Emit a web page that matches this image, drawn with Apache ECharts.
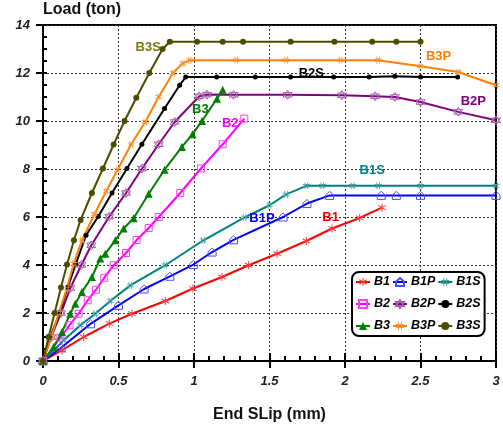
<!DOCTYPE html>
<html>
<head>
<meta charset="utf-8">
<script src="https://cdn.jsdelivr.net/npm/echarts@6/dist/echarts.min.js"></script>
<style>
  html, body { margin: 0; padding: 0; background: #fff; }
  #chart { width: 503px; height: 426px; }
</style>
</head>
<body>
<div id="chart"></div>
<script>
// Load vs. end slip, pairs of [slip (mm), load (ton)]
const B1  = [[0,0],[0.126,0.45],[0.269,1.0],[0.439,1.56],[0.589,1.97],[0.81,2.5],[0.993,3.02],[1.185,3.5],[1.362,3.99],[1.55,4.47],[1.744,5.0],[1.914,5.52],[2.097,5.96],[2.245,6.39]];
const B1P = [[0,0],[0.12,0.55],[0.315,1.55],[0.5,2.32],[0.67,3.0],[0.84,3.53],[0.996,4.02],[1.12,4.54],[1.262,5.05],[1.59,6.0],[1.748,6.56],[1.898,6.9],[2.24,6.9],[2.34,6.9],[2.5,6.9],[3.0,6.9]];
const B1S = [[0,0],[0.137,0.86],[0.247,1.49],[0.346,1.97],[0.446,2.5],[0.578,3.15],[0.81,3.99],[1.06,5.02],[1.335,5.98],[1.5,6.49],[1.61,6.94],[1.744,7.3],[1.85,7.3],[2.05,7.3],[2.22,7.3],[2.5,7.3],[3.0,7.3]];
const B2  = [[0,0],[0.115,0.97],[0.176,1.49],[0.236,1.97],[0.296,2.53],[0.351,2.97],[0.406,3.47],[0.468,3.99],[0.55,4.5],[0.62,5.04],[0.7,5.54],[0.766,6.0],[0.909,7.0],[1.046,8.02],[1.19,9.03],[1.333,10.1]];
const B2P = [[0,0],[0.055,1.0],[0.119,2.0],[0.181,3.04],[0.254,4.0],[0.32,4.82],[0.439,6.02],[0.55,7.0],[0.656,8.02],[0.766,9.03],[0.872,9.96],[1.035,11.03],[1.086,11.1],[1.262,11.09],[1.62,11.09],[1.98,11.07],[2.2,11.03],[2.33,11.0],[2.5,10.79],[2.75,10.38],[3.0,10.03]];
const B2S = [[0,0],[0.048,1.0],[0.11,2.0],[0.163,3.06],[0.217,4.04],[0.285,5.24],[0.366,6.02],[0.457,7.0],[0.556,8.02],[0.655,9.03],[0.805,10.52],[0.905,11.49],[0.945,11.83],[1.15,11.83],[1.406,11.83],[1.64,11.83],[1.925,11.83],[2.16,11.83],[2.33,11.86],[2.5,11.83],[2.746,11.83]];
const B3  = [[0,0],[0.07,0.58],[0.126,1.21],[0.18,1.97],[0.214,2.39],[0.258,2.88],[0.324,3.5],[0.379,4.27],[0.413,4.47],[0.479,5.03],[0.534,5.52],[0.6,5.95],[0.7,6.97],[0.805,7.97],[0.92,8.92],[0.99,9.45],[1.053,10.0],[1.152,10.93],[1.19,11.3]];
const B3P = [[0,0],[0.055,1.0],[0.105,2.0],[0.158,3.02],[0.203,4.05],[0.258,5.03],[0.34,6.11],[0.419,7.08],[0.494,7.97],[0.583,9.02],[0.677,9.96],[0.766,11.0],[0.861,12.0],[0.925,12.4],[0.971,12.53],[1.28,12.53],[1.61,12.53],[1.97,12.53],[2.22,12.53],[2.5,12.28],[2.75,12.04],[3.0,11.49]];
const B3S = [[0,0],[0.037,1.0],[0.077,2.0],[0.119,3.06],[0.159,4.02],[0.205,5.03],[0.249,5.88],[0.324,7.0],[0.397,8.02],[0.468,9.02],[0.54,10.0],[0.618,10.97],[0.704,12.0],[0.792,13.0],[0.84,13.3],[1.02,13.3],[1.19,13.3],[1.325,13.3],[1.64,13.3],[1.93,13.3],[2.18,13.3],[2.34,13.3],[2.5,13.3]];

const seriesNames = ['B1','B1P','B1S','B2','B2P','B2S','B3','B3P','B3S'];
const seriesData  = [B1, B1P, B1S, B2, B2P, B2S, B3, B3P, B3S];

// Axis ticks
const slipTicks = [0, 0.5, 1, 1.5, 2, 2.5, 3];
const loadTicks = [0, 2, 4, 6, 8, 10, 12, 14];

// In-plot name tags, [slip, load] of each tag's centre
const tagAt = [[1.905,6.0],[1.45,5.93],[2.18,7.92],[1.24,9.9],[2.85,10.8],[1.777,12.0],[1.042,10.5],[2.62,12.68],[0.697,13.08]];

// Marker shapes
const asterisk = 'path://M4.4,0h1.2v10h-1.2Z M0.4,2.7L1,1.7L9.6,7.3L9,8.3Z M9.6,2.7L9,1.7L0.4,7.3L1,8.3Z';
const hash = 'path://M2.5,0h1.2v10h-1.2Z M6.3,0h1.2v10h-1.2Z M0,2.5h10v1.2h-10Z M0,6.3h10v1.2h-10Z';
const house = 'path://M5,0L10,4.5L10,10L0,10L0,4.5Z';
const square = 'path://M0,0H10V10H0Z';
const hexagram = 'path://M5,0L9.33,7.5L0.67,7.5Z M5,10L0.67,2.5L9.33,2.5Z';

const styles = {
  B1:  { line: '#ff0000', mark: '#ff3a3a', tag: '#ff0000', symbol: asterisk, size: 8,  outline: false },
  B1P: { line: '#0000ff', mark: '#4a4aff', tag: '#0000ff', symbol: house,    size: 8,  outline: true  },
  B1S: { line: '#008080', mark: '#4fa8a8', tag: '#008080', symbol: hash,     size: 7,  outline: false },
  B2:  { line: '#ff00ff', mark: '#ff3cff', tag: '#ff00ff', symbol: square,   size: 7,  outline: true  },
  B2P: { line: '#800080', mark: '#a860a8', tag: '#800080', symbol: hexagram, size: 9,  outline: true  },
  B2S: { line: '#000000', mark: '#000000', tag: '#000000', symbol: 'circle', size: 5,  outline: false },
  B3:  { line: '#008000', mark: '#008000', tag: '#008000', symbol: 'triangle', size: 8, outline: false },
  B3P: { line: '#ff8000', mark: '#ff9a3a', tag: '#ff8000', symbol: hash,     size: 7,  outline: false },
  B3S: { line: '#4d4d00', mark: '#4d4d00', tag: '#7a7a10', symbol: 'circle', size: 6,  outline: false }
};

const series = seriesNames.map((name, i) => {
  const s = styles[name];
  return {
    name: name,
    type: 'line',
    data: seriesData[i],
    symbol: s.symbol,
    symbolSize: s.size,
    showAllSymbol: true,
    lineStyle: { color: s.line, width: 2 },
    itemStyle: s.outline
      ? { color: 'transparent', borderColor: s.mark, borderWidth: 1 }
      : { color: s.mark, borderWidth: 0 },
    emphasis: { disabled: true },
    markPoint: {
      silent: true,
      symbol: 'circle',
      symbolSize: 0,
      label: {
        show: true, position: 'inside', formatter: name,
        color: s.tag, fontFamily: 'Arial', fontWeight: 'bold', fontSize: 13
      },
      data: [{ coord: tagAt[i] }]
    }
  };
});

const labelFont = { fontFamily: 'Arial', fontStyle: 'italic', fontWeight: 'bold', fontSize: 13, color: '#222' };

const xBase = {
  type: 'value',
  min: slipTicks[0],
  max: slipTicks[slipTicks.length - 1],
  interval: slipTicks[1] - slipTicks[0]
};
const yBase = {
  type: 'value',
  min: loadTicks[0],
  max: loadTicks[loadTicks.length - 1],
  interval: loadTicks[1] - loadTicks[0]
};

const option = {
  animation: false,
  backgroundColor: '#fff',
  grid: {
    left: 43, right: 7, top: 25, bottom: 65,
    outerBoundsMode: 'none',
    containLabel: false,
    show: true, borderColor: '#000', borderWidth: 2, backgroundColor: 'transparent'
  },
  legend: {
    data: seriesNames,
    left: 352, top: 272,
    width: 132,
    orient: 'horizontal',
    padding: [0, 4, 0, 3],
    itemGap: 2,
    itemWidth: 14, itemHeight: 10,
    backgroundColor: '#fff',
    borderColor: '#000', borderWidth: 2, borderRadius: 7,
    textStyle: { fontFamily: 'Arial', fontStyle: 'italic', fontWeight: 'bold', fontSize: 12.5, color: '#000', lineHeight: 20, padding: [0, 0, 0, -1] }
  },
  xAxis: [
    Object.assign({}, xBase, {
      position: 'bottom',
      name: 'End SLip (mm)',
      nameLocation: 'middle',
      nameGap: 46,
      nameTextStyle: { fontFamily: 'Arial', fontWeight: 'bold', fontSize: 16, color: '#111' },
      axisLine: { show: true, lineStyle: { color: '#000', width: 2 } },
      axisTick: { show: true, inside: true, length: 8, lineStyle: { color: '#000', width: 2 } },
      minorTick: { show: true, splitNumber: 5, length: 5, lineStyle: { color: '#000', width: 2 } },
      axisLabel: Object.assign({ margin: 14, formatter: v => String(v) }, labelFont),
      splitLine: { show: true, lineStyle: { color: '#333', width: 1, type: [2, 2] } }
    }),
    Object.assign({}, xBase, {
      position: 'bottom',
      axisLine: { show: false },
      axisTick: { show: true, inside: false, length: 7, lineStyle: { color: '#000', width: 2 } },
      axisLabel: { show: false },
      splitLine: { show: false }
    })
  ],
  yAxis: [
    Object.assign({}, yBase, {
      position: 'left',
      name: 'Load (ton)',
      nameLocation: 'end',
      nameGap: 7,
      nameTextStyle: { fontFamily: 'Arial', fontWeight: 'bold', fontSize: 16, color: '#111', align: 'left' },
      axisLine: { show: true, lineStyle: { color: '#000', width: 2 } },
      axisTick: { show: true, inside: true, length: 4, lineStyle: { color: '#000', width: 2 } },
      minorTick: { show: true, splitNumber: 4, length: 4, lineStyle: { color: '#000', width: 2 } },
      axisLabel: Object.assign({ margin: 13 }, labelFont),
      splitLine: { show: true, lineStyle: { color: '#333', width: 1, type: [2, 2] } }
    }),
    Object.assign({}, yBase, {
      position: 'left',
      axisLine: { show: false },
      axisTick: { show: true, inside: false, length: 7, lineStyle: { color: '#000', width: 2 } },
      axisLabel: { show: false },
      splitLine: { show: false }
    })
  ],
  series: series
};

const chart = echarts.init(document.getElementById('chart'), null, { renderer: 'canvas' });
chart.setOption(option);
</script>
</body>
</html>
